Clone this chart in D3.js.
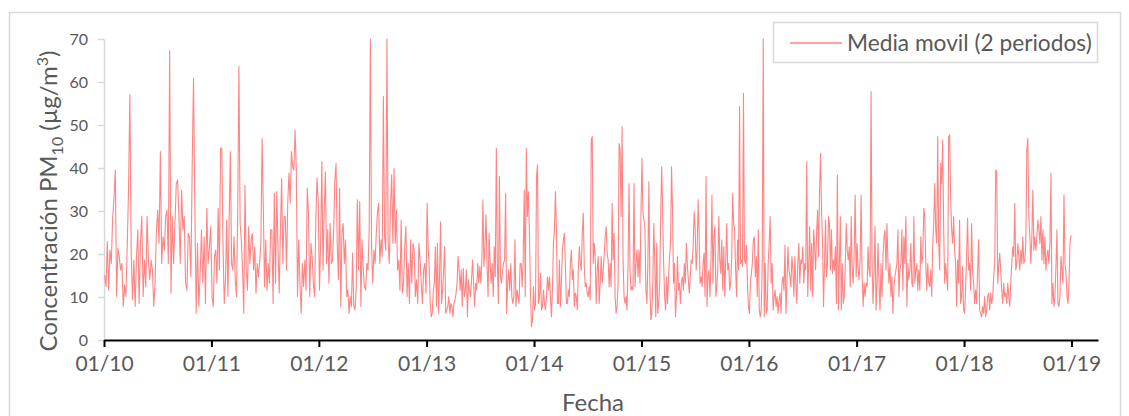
<!DOCTYPE html>
<html><head><meta charset="utf-8">
<script src="https://cdn.jsdelivr.net/npm/d3@7"></script>
<style>body{margin:0;background:#fff;} text{font-family:Lato,"Open Sans",sans-serif;fill:#595959;}</style>
</head><body><svg id="c" width="1129" height="416"></svg>
<script>
// PM10 two-period moving average, samples, one array per year
const years = [2010,2011,2012,2013,2014,2015,2016,2017,2018];
const pm2010 = [15.1,12.4,22.9,11.6,20.9,17.8,28.3,32.9,39.5,10.1,21.3,19.4,16.3,17.8,7.8,12.8,10.1,21.7,34.9,57.0,20.9,9.3,18.6,7.8,19.4,25.6,8.5,22.5,28.7,10.1,18.6,12.4,28.7,18.6,14.0,18.6,16.3,7.8,13.2,25.6,30.2,22.5,43.8,17.8,24.0,20.9,28.7,30.2,17.8,67.3,10.9,28.7,17.8,27.1,36.4,37.2,28.7,17.8,34.9,25.6,28.7,13.2,11.6,24.8,24.0,14.7,40.7,60.9,31.0,6.2,22.5,7.8,15.5,25.6,13.2,24.0,8.5,30.6,17.8,21.7,26.4];
const pm2011 = [10.1,7.8,19.4,20.9,13.2,30.6,16.3,44.6,44.6,21.7,8.5,14.0,27.9,10.1,27.9,43.8,17.8,16.3,24.0,14.0,10.1,29.5,63.6,27.1,23.3,16.3,6.2,36.0,16.3,11.6,26.4,17.8,23.3,24.8,16.3,21.7,10.9,17.8,14.7,17.8,22.5,46.9,30.6,12.4,23.3,11.6,17.8,13.2,25.6,25.6,8.5,34.1,13.2,34.5,21.7,10.9,25.6,37.6,17.8,28.7,28.7,16.3,31.8,38.8,31.8,43.8,40.3,39.5,48.8,39.9,10.1,23.3,13.2,6.2,17.8,12.4,18.6,11.6,35.3,29.5,10.1,22.5,19.4,13.2,10.1,27.9,37.6,31.8];
const pm2012 = [11.6,22.5,41.5,16.3,30.2,39.1,17.8,25.6,13.2,27.1,17.8,18.6,25.6,37.2,41.1,22.5,14.0,35.3,7.8,24.8,27.1,17.8,23.3,10.1,11.6,6.2,10.1,7.8,20.2,7.8,7.0,11.6,32.6,16.3,32.2,7.8,23.3,16.3,12.4,11.6,17.8,16.3,25.6,70,21.7,13.2,20.9,17.8,24.8,29.8,31.8,17.8,23.3,19.4,56.6,24.0,20.9,70,22.5,17.8,31.0,38.4,22.5,39.9,22.5,30.2,16.3,18.6,11.6,27.9,10.9,13.2,21.7,26.4,10.1,17.8,8.5,23.3,13.2,22.5,20.9,10.1,14.0,8.5,22.5,18.6,13.2,8.5,16.3,17.8,10.9];
const pm2013 = [31.8,21.7,17.1,8.5,5.4,6.2,11.6,13.2,21.7,7.8,22.5,6.2,14.7,27.5,8.5,11.6,16.3,21.7,6.2,7.0,7.8,10.1,6.2,8.5,7.8,5.4,8.5,9.3,10.9,13.2,19.4,16.3,11.6,16.3,7.8,16.7,10.1,11.6,16.3,5.4,14.0,11.6,10.1,14.0,18.6,13.2,7.8,13.2,11.6,17.8,13.2,17.1,13.2,18.6,32.6,17.1,21.7,29.1,17.8,10.1,24.8,17.8,13.2,17.8,10.1,21.7,14.7,44.6,17.8,8.5,38.0,14.7,13.2,16.3,17.8,18.6,34.1,6.2,13.2,16.3,11.6,17.8,10.1,8.5,10.1,23.3,7.8,11.6,10.1,8.5,17.8,17.8,12.4,18.6,34.9,10.1,44.6,28.7,34.5,25.6,11.6,3.1,4.7,12.4];
const pm2014 = [7.0,8.5,38.0,40.7,8.5,10.1,15.5,7.0,7.8,11.6,8.5,7.0,10.1,14.7,11.6,14.7,10.1,5.4,11.6,22.5,25.6,34.5,25.6,8.5,8.5,18.6,7.8,13.2,20.9,23.3,24.8,17.8,8.5,8.5,11.6,10.1,17.8,20.9,14.0,16.3,7.8,10.9,10.1,7.0,16.3,21.7,17.8,16.3,24.8,29.5,17.1,12.4,13.2,10.9,10.1,12.4,9.3,46.5,47.3,17.8,22.5,19.4,8.5,16.3,19.4,8.5,13.2,19.4,13.2,16.3,19.4,24.0,26.4,20.2,18.6,12.4,17.8,12.4,31.8,18.6,24.8,10.1,6.2,7.8,13.2,45.7,44.2,28.7,49.6,18.6,10.1,8.5,10.1,7.0,17.8,36.4,16.3,11.6,12.4,11.6,36.4,12.4,17.8,20.9,14.7,20.9,13.2,29.5];
const pm2015 = [42.2,29.5,27.9,26.4,11.6,8.5,17.8,36.8,13.2,4.7,6.2,13.2,27.1,17.8,5.4,22.5,6.2,8.5,13.2,28.7,40.3,29.5,17.8,10.1,7.0,14.7,8.5,14.7,19.4,22.5,40.3,30.2,13.2,17.8,5.4,10.1,19.4,11.6,13.2,8.5,13.2,14.7,11.6,17.8,13.2,22.5,17.8,14.0,10.9,14.7,18.6,17.8,22.5,29.8,25.6,16.3,20.9,32.6,24.8,13.2,14.7,12.4,17.8,20.2,10.1,38.0,7.8,14.7,16.3,10.1,18.6,33.7,13.2,24.0,26.4,10.1,12.4,17.1,28.7,18.6,15.5,23.3,11.6,21.7,10.1,18.6,27.1,16.3,17.8,11.6,13.2,18.6,34.1,27.1,25.6,16.3,10.1,23.3,16.3,54.3,17.8,18.6,17.1,57.4,18.6,17.8,22.1,13.2,7.8];
const pm2016 = [6.2,13.2,15.5,17.8,23.3,24.0,14.7,19.4,10.1,25.6,7.0,5.4,7.0,17.8,70,5.4,17.8,6.2,7.0,17.8,22.5,28.7,13.2,17.8,7.0,10.1,11.6,7.8,10.1,6.2,9.3,10.9,6.2,13.2,14.7,11.6,22.1,6.2,13.2,21.7,16.3,14.7,12.4,19.4,16.3,10.1,19.4,13.2,8.5,17.8,22.5,13.2,18.6,17.8,21.7,13.2,17.8,16.3,41.5,10.1,17.8,26.4,11.6,22.5,10.1,25.6,21.7,16.3,24.8,30.2,19.4,34.9,43.4,30.2,22.5,7.8,17.8,27.9,14.7,17.8,28.7,27.1,16.3,25.6,15.5,18.6,16.3,21.7,8.5,38.4,7.0,17.8,28.7,7.0,17.8,8.5,10.1,17.8,27.1,20.9,18.6,21.7,12.4,28.7,16.3,13.2,20.2,33.7,14.7];
const pm2017 = [22.5,16.3,14.0,18.6,33.7,14.7,7.8,13.2,10.1,13.2,12.4,21.7,16.3,14.7,57.8,17.8,8.5,15.5,26.4,7.0,13.2,22.5,13.2,7.0,17.8,10.1,19.4,24.0,25.6,16.3,27.1,17.8,13.2,17.8,10.1,14.7,6.2,12.4,14.7,16.3,17.8,25.6,10.1,16.3,17.8,25.6,11.6,24.0,17.8,28.7,7.8,17.8,14.0,16.3,22.5,13.2,12.4,28.7,13.2,16.3,17.8,11.6,16.3,11.6,24.0,17.8,19.4,30.6,28.7,17.8,11.6,17.8,13.2,12.4,16.3,10.1,22.5,27.1,36.4,25.6,22.5,47.3,22.5,16.3,41.1,36.4,46.5,25.6,13.2,17.8,14.7,11.6,47.3,47.7,33.3,25.6,22.5,28.7,20.9,17.8,7.8,18.6,13.2,27.9,8.5,10.1,17.1,7.0];
const pm2018 = [6.2,11.6,19.4,28.3,16.3,17.8,11.6,27.1,16.3,13.2,8.5,11.6,8.5,16.3,23.3,7.0,6.2,5.4,7.8,6.2,10.1,5.4,7.0,10.1,10.9,7.0,10.9,8.5,10.1,14.7,17.8,39.5,39.1,13.2,17.1,20.2,16.3,11.6,8.5,13.2,10.1,10.9,8.5,13.2,10.1,7.8,13.2,17.8,21.7,19.4,31.8,16.3,17.8,22.5,19.4,16.3,20.9,17.8,24.0,17.8,18.6,22.5,44.2,46.9,28.7,24.0,17.8,24.0,34.9,20.9,24.0,20.9,24.0,27.9,25.6,22.5,28.7,18.6,25.6,17.8,24.0,16.3,19.4,20.9,17.8,22.5,38.8,8.5,13.2,7.8,10.1,17.1,25.6,8.5,7.8,10.1,19.4,16.3,13.2,33.7,17.8,15.5,10.1,8.5,13.2,22.5,24.4];
const yearly = [pm2010,pm2011,pm2012,pm2013,pm2014,pm2015,pm2016,pm2017,pm2018];
const yTicks = [0,10,20,30,40,50,60,70];
const seriesName = "Media movil (2 periodos)";
const xTitle = "Fecha";

const series = [];
years.forEach((yr,k)=>{
  const vals = yearly[k];
  const s = new Date(yr,0,1), e = new Date(yr+1,0,1), span = e - s;
  vals.forEach((v,i)=>series.push({date:new Date(+s + span*(i+0.5)/vals.length), value:v}));
});

const svg = d3.select("#c");
const lineColor = "#FF8585";
svg.append("rect").attr("x",9.5).attr("y",12.5).attr("width",1111).attr("height",420)
   .attr("fill","#fff").attr("stroke","#D9D9D9").attr("stroke-width",1.5);

const x = d3.scaleTime().domain([new Date(2010,0,1), new Date(2019,3,1)]).range([104,1098]);
const y = d3.scaleLinear().domain([0,70]).range([340,39]);

// y axis
const ya = svg.append("g").attr("transform","translate(104,0)")
  .call(d3.axisLeft(y).tickValues(yTicks).tickSize(6).tickSizeOuter(0).tickPadding(10));
ya.select(".domain").attr("stroke","#D9D9D9").attr("stroke-width",1.5);
ya.selectAll(".tick line").attr("stroke","#D9D9D9").attr("stroke-width",1.5);
ya.selectAll(".tick text").style("font-size","16px").attr("fill","#595959");

// series line
svg.append("path").datum(series)
  .attr("fill","none").attr("stroke",lineColor).attr("stroke-width",1.1).attr("stroke-linejoin","round")
  .attr("d",d3.line().x(d=>x(d.date)).y(d=>y(Math.min(70,d.value))));

// x axis
const xa = svg.append("g").attr("transform","translate(0,340)")
  .call(d3.axisBottom(x).ticks(d3.timeYear.every(1)).tickFormat(d3.timeFormat("%m/%y")).tickSize(7).tickSizeOuter(0).tickPadding(9));
xa.select(".domain").attr("stroke","#000").attr("stroke-width",2);
xa.selectAll(".tick line").attr("stroke","#000").attr("stroke-width",2);
xa.selectAll(".tick text").style("font-size","21px").attr("fill","#595959");

// axis titles
svg.append("text").attr("x",593).attr("y",411).attr("text-anchor","middle").style("font-size","24px").text(xTitle);
const yt = svg.append("text").attr("transform","translate(57,201) rotate(-90)").attr("text-anchor","middle").style("font-size","24px");
yt.append("tspan").text("Concentración PM");
yt.append("tspan").attr("dy",6).style("font-size","16px").text("10");
yt.append("tspan").attr("dy",-6).text(" (µg/m");
yt.append("tspan").attr("dy",-9).style("font-size","16px").text("3");
yt.append("tspan").attr("dy",9).text(")");

// legend
const lg = svg.append("g");
lg.append("rect").attr("x",773.5).attr("y",22.5).attr("width",324).attr("height",40)
  .attr("fill","#fff").attr("stroke","#D9D9D9").attr("stroke-width",1.5);
lg.append("line").attr("x1",790).attr("x2",842).attr("y1",43).attr("y2",43).attr("stroke",lineColor).attr("stroke-width",1.5);
lg.append("text").attr("x",847).attr("y",51).style("font-size","22.7px").text(seriesName);
</script></body></html>
